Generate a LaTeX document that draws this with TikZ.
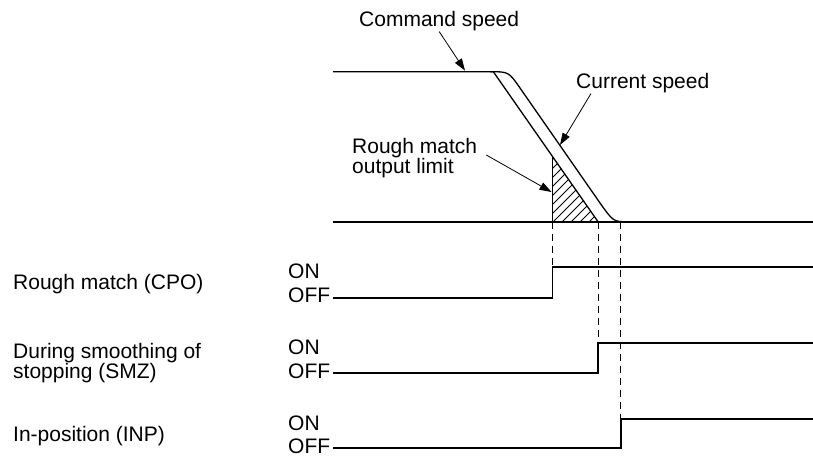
\documentclass[tikz,border=0pt]{standalone}
\usepackage{fontspec}
\setmainfont{Liberation Sans}
\usetikzlibrary{arrows.meta}

\begin{document}
\begin{tikzpicture}[
    x=1pt, y=-1pt,
    every node/.style={font=\fontsize{21}{20}\selectfont, inner sep=0pt},
    lbl/.style={anchor=base west},
    speed/.style={line width=1.3pt},
    axis/.style={line width=2.2pt},
    sig/.style={line width=1.7pt},
    guide/.style={line width=1pt, dash pattern=on 7pt off 5pt},
    pointer/.style={line width=0.8pt, -{Triangle[length=12pt, width=8pt]}},
    hatchline/.style={line width=0.8pt},
]
\useasboundingbox (0,0) rectangle (813,457);

% speed profile
\coordinate (cmdstart) at (333,71.7);
\coordinate (cmdknee)  at (493.3,71.7);
\coordinate (cmdfoot)  at (598,221.7);
\coordinate (limtop)   at (552.5,155.8);
\coordinate (limfoot)  at (552.5,221.7);

\begin{scope}
  \clip (limtop) -- (limfoot) -- (cmdfoot) -- cycle;
  \foreach \c in {712,721,...,830}
    \draw[hatchline] (\c-221.7,221.7) -- (\c-150,150);
\end{scope}
\draw[speed] (limtop) -- (limfoot);
\draw[speed] (cmdstart) -- (cmdknee) -- (cmdfoot);
\draw[speed] (490,71.7) .. controls (508.6,71.7) .. (520,88)
             -- (600,203) .. controls (613.3,221.7) .. (628,221.7);
\draw[axis] (333,221.7) -- (813,221.7);

% speed labels
\node[lbl] (cmd) at (359,27) {Command speed};
\node[lbl] (cur) at (576,89) {Current speed};
\node[anchor=north west, align=left] (lim) at (352,138) {Rough match\\output limit};

\coordinate (cmdtip) at (465,70.6);
\coordinate (curtip) at (560,145);
\coordinate (limtip) at (551.5,192);
\draw[pointer] (cmd.south) -- (cmdtip);
\draw[pointer] ([xshift=15pt]cur.south west) -- (curtip);
\draw[pointer] ([xshift=9pt, yshift=3pt]lim.east) -- (limtip);

% signal names
\node[lbl] (cpo) at (13,289) {Rough match (CPO)};
\node[anchor=north west, align=left] (smz) at (13,343) {During smoothing of\\stopping (SMZ)};
\node[lbl] (inp) at (13,441) {In-position (INP)};

% ON/OFF timing
\foreach \i/\sx in {1/552.5, 2/598, 3/620.7}{
  \pgfmathsetmacro{\yon}{267+76*(\i-1)}
  \pgfmathsetmacro{\yoff}{297.7+75.3*(\i-1)}
  \node[lbl] (on\i)  at (288,\yon+11)  {ON};
  \node[lbl] (off\i) at (288,\yoff+5) {OFF};
  \draw[sig] (333,\yoff) -- (\sx,\yoff) -- (\sx,\yon) -- (813,\yon);
  \draw[guide] (\sx,221.7) -- (\sx,\yon);
}
\end{tikzpicture}
\end{document}
